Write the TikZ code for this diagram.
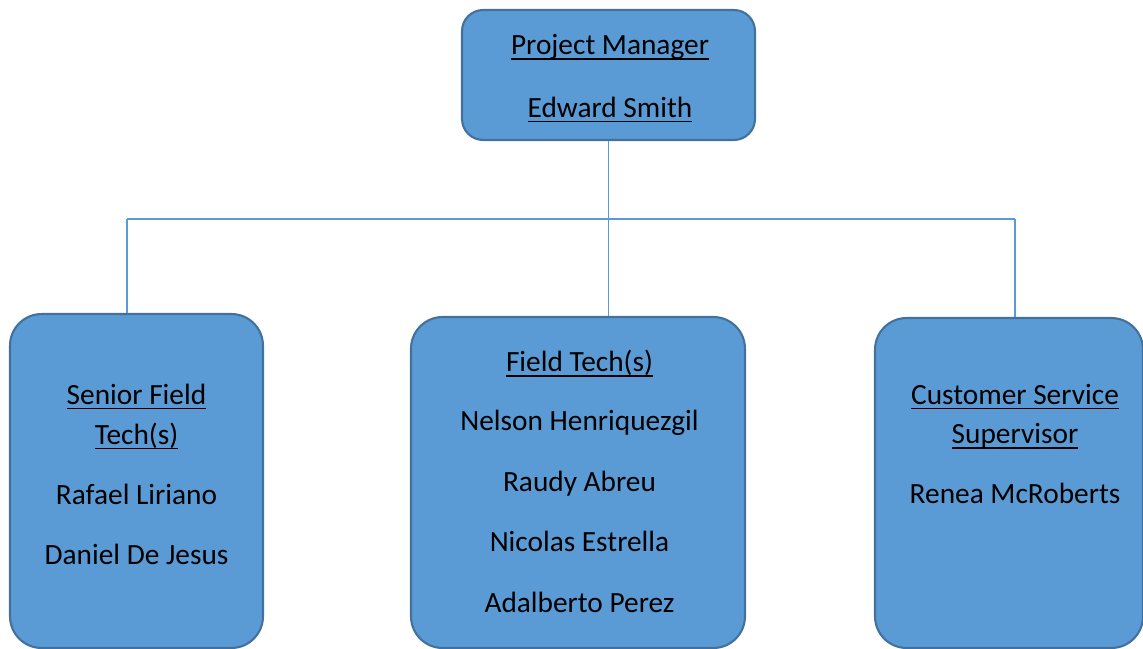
\documentclass[tikz,border=0pt]{standalone}
\usepackage{fontspec}
\setmainfont{Carlito}
\usetikzlibrary{positioning}
\definecolor{orgfill}{HTML}{5B9BD5}
\definecolor{orgedge}{HTML}{41719C}
\definecolor{orglink}{HTML}{5B9BD5}
\newsavebox{\ulbox}
\newcommand{\ulname}[1]{\sbox{\ulbox}{#1}\rlap{\rule[-3pt]{\wd\ulbox}{1pt}}\usebox{\ulbox}}
\tikzset{
  orgbox/.style ={rectangle, rounded corners=18pt, draw=orgedge, line width=1.2pt,
                  fill=orgfill, inner sep=0pt},
  orgtxt/.style ={align=center, inner sep=0pt, text=black,
                  font=\fontsize{16.7}{22.7}\selectfont},
  link/.style   ={draw=orglink, line width=0.7pt}
}
\begin{document}
\begin{tikzpicture}[x=0.02cm, y=-0.02cm]
  \useasboundingbox (0,0) rectangle (1143,649);

  \node[orgbox,rounded corners=12pt,minimum width=5.86cm,minimum height=2.6cm] (pm) at (608.5,75) {};
  \node[orgbox,minimum width=5.06cm,minimum height=6.68cm] (sft) at (136.5,481) {};
  \node[orgbox,minimum width=6.68cm,minimum height=6.62cm] (fts) at (578,482.5) {};
  \node[orgbox,minimum width=5.36cm,minimum height=6.6cm]  (css) at (1009,483) {};

  \node[orgtxt,below=0.5cm of pm.north,xshift=0.03cm] (pmt)
    {\ulname{Project Manager}\\[13pt]\ulname{Edward Smith}};
  \node[orgtxt,below=1.41cm of sft.north] (sftt)
    {\ulname{Senior Field}\\\ulname{Tech(s)}\\[11.5pt]Rafael Liriano\\[11.5pt]Daniel De Jesus};
  \node[orgtxt,below=0.68cm of fts.north,xshift=0.03cm] (ftst)
    {\ulname{Field Tech(s)}\\[10.8pt]Nelson Henriquezgil\\[11.8pt]Raudy Abreu\\[11.8pt]Nicolas Estrella\\[11.8pt]Adalberto Perez};
  \node[orgtxt,below=1.33cm of css.north,xshift=0.12cm] (csst)
    {\ulname{Customer Service}\\\ulname{Supervisor}\\[11.5pt]Renea McRoberts};

  \coordinate (jl) at (127,219);
  \coordinate (jr) at (1015,219);
  \draw[link] (jl) -- (jr);
  \draw[link] (pm.south) -- (pm.south |- fts.north);
  \draw[link] (jl) -- (jl |- sft.north);
  \draw[link] (jr) -- (jr |- css.north);
\end{tikzpicture}
\end{document}
